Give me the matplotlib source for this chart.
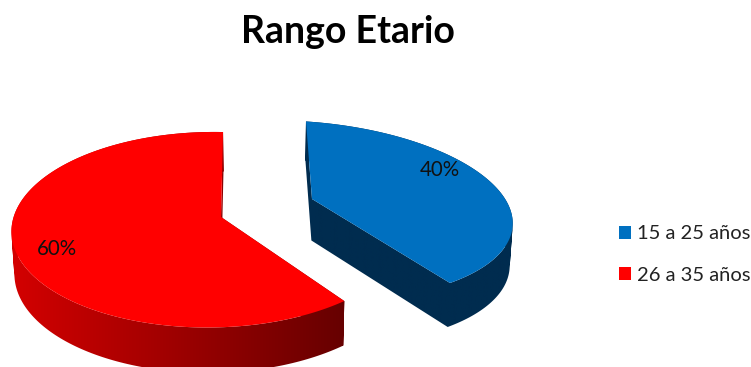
import numpy as np
import matplotlib
matplotlib.use("Agg")
import matplotlib.pyplot as plt
from matplotlib.colors import LinearSegmentedColormap
from matplotlib.patches import Patch, PathPatch, Polygon
from matplotlib.path import Path

plt.rcParams['font.family'] = ['Lato', 'DejaVu Sans']

categories = ['15 a 25 años', '26 a 35 años']
percent = [40, 60]
top_colors = ['#0070C0', '#FF0000']
title = 'Rango Etario'

# camera for each exploded slice: apex, then the terms of a plane projection
views = [
    dict(cx=312, cy=199, a=206, b=87.7, c=-6.8, d=10.4, k=0.131, m=0.040),
    dict(cx=221, cy=217, a=197, b=96, c=2.3, d=0, k=0.130, m=0.050),
]
label_xy = [(440, 170), (57, 249)]

# side shading: blue is flat, red darkens from left to right
side_cmaps = [
    LinearSegmentedColormap.from_list('blue_side', ['#002C4F', '#002C4F']),
    LinearSegmentedColormap.from_list('red_side', ['#D40000', '#660000']),
]
side_spans = [(290, 530), (10, 346)]


def project(view, x, y):
    """Map points of the unit disc onto the tilted pie plane (pixels)."""
    w = 1 + view['k'] * y + view['m'] * x
    px = view['cx'] + (view['a'] * x + view['c'] * y) / w
    py = view['cy'] + (-view['b'] * y + view['d'] * x) / w
    return px, py


def drop(px, py):
    """Lower face of the pie: pushed down and pulled slightly to the middle."""
    return px + 0.012 * (260 - px), py + 43 + 0.03 * (py - 250)


def closed_ring(points):
    # same winding for every ring, so shared edges leave no seam when filled together
    pts = np.asarray(points, dtype=float)
    x, y = pts[:, 0], pts[:, 1]
    if np.dot(x, np.roll(y, -1)) - np.dot(y, np.roll(x, -1)) < 0:
        pts = pts[::-1]
    return Path(np.vstack([pts, pts[0]]), closed=True)


fig = plt.figure(figsize=(7.51, 3.67), dpi=100)
ax = fig.add_axes([0, 0, 1, 1])
ax.axis('off')

start = 0.0
for i, value in enumerate(percent):
    sweep = value / sum(percent) * 2 * np.pi
    th = np.linspace(start, start + sweep, 200)
    start += sweep
    view = views[i]
    rx, ry = project(view, np.sin(th), np.cos(th))
    ax0, ay0 = project(view, 0.0, 0.0)
    bx, by = drop(rx, ry)
    abx, aby = drop(ax0, ay0)

    # side of the slice: both cut faces and the rim in strips, under one gradient
    rings = [
        closed_ring([(rx[0], ry[0]), (ax0, ay0), (abx, aby), (bx[0], by[0])]),
        closed_ring([(rx[-1], ry[-1]), (ax0, ay0), (abx, aby), (bx[-1], by[-1])]),
    ]
    for j in range(len(th) - 1):
        rings.append(closed_ring([(rx[j], ry[j]), (rx[j + 1], ry[j + 1]),
                                  (bx[j + 1], by[j + 1]), (bx[j], by[j])]))
    side = Path.make_compound_path(*rings)

    x0, x1 = side_spans[i]
    grad = np.linspace(0, 1, 256).reshape(1, -1)
    im = ax.imshow(grad, cmap=side_cmaps[i], extent=(x0, x1, 380, 100), aspect='auto', zorder=2)
    clip = PathPatch(side, transform=ax.transData, fc='none', ec='none')
    ax.add_patch(clip)
    im.set_clip_path(clip)

    # top face
    top = np.column_stack([np.r_[ax0, rx], np.r_[ay0, ry]])
    ax.add_patch(Polygon(top, closed=True, fc=top_colors[i], ec='none', zorder=4))

    ax.text(label_xy[i][0], label_xy[i][1], f'{value}%', fontsize=14.8, color='#111111',
            ha='center', va='center', zorder=5)

ax.set_xlim(0, 751)
ax.set_ylim(367, 0)

ax.text(348, 32, title, fontsize=27, fontweight='bold', color='black', ha='center', va='center')

handles = [Patch(fc=c, ec='none') for c in top_colors]
ax.legend(handles, categories, loc='center left', bbox_to_anchor=(619, 254.5),
          bbox_transform=ax.transData, frameon=False, fontsize=14.5, labelcolor='#222222',
          handlelength=0.62, handleheight=0.62, handletextpad=0.28, labelspacing=1.22,
          borderpad=0, borderaxespad=0)

fig.savefig('out.png', dpi=100)
plt.close(fig)
